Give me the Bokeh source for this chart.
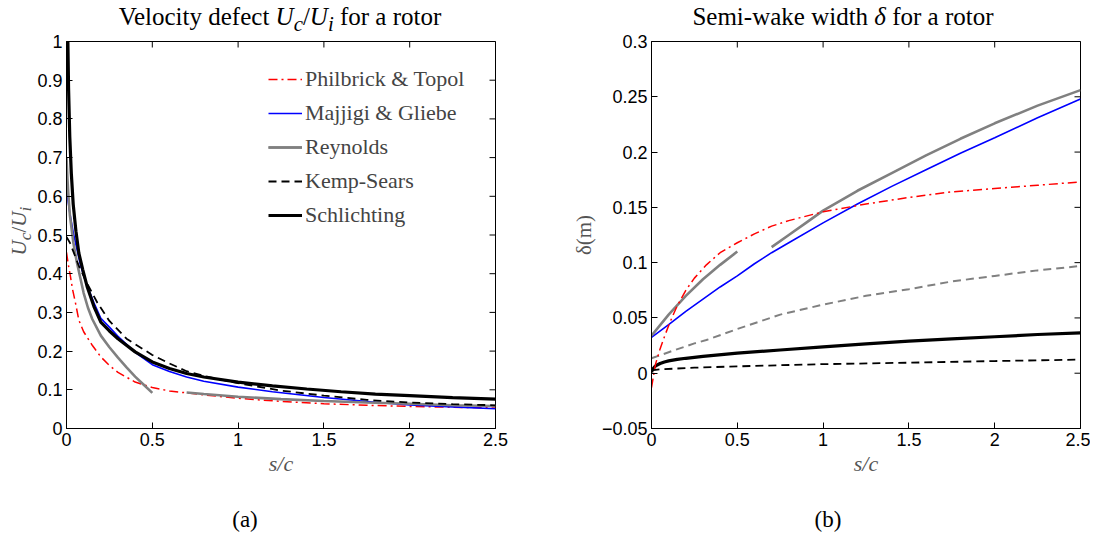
from bokeh.plotting import figure
from bokeh.models import (Range1d, FixedTicker, Legend, LegendItem, CustomJSTickFormatter, Div)
from bokeh.layouts import row, column
from bokeh.embed import file_html
from bokeh.resources import INLINE

# ---------------- data: (a) velocity defect Uc/Ui ----------------
pt_s = [0, 0.01, 0.023, 0.035, 0.052, 0.072, 0.1, 0.15, 0.2, 0.25, 0.3, 0.4, 0.5,
        0.6, 0.8, 1.0, 1.25, 1.5, 1.75, 2.0, 2.25, 2.5]
pt_u = [0.455, 0.425, 0.393, 0.36, 0.325, 0.28, 0.25, 0.215, 0.185, 0.163, 0.145,
        0.12, 0.106, 0.097, 0.087, 0.078, 0.07, 0.064, 0.06, 0.057, 0.055, 0.053]

mg_s = [0, 0.005, 0.01, 0.02, 0.04, 0.06, 0.08, 0.1, 0.12, 0.16, 0.2, 0.25, 0.3,
        0.4, 0.5, 0.6, 0.7, 0.8, 1.0, 1.2, 1.5, 1.8, 2.0, 2.25, 2.5]
mg_u = [0.63, 0.605, 0.585, 0.555, 0.505, 0.465, 0.425, 0.395, 0.37, 0.325, 0.285,
        0.262, 0.238, 0.197, 0.165, 0.147, 0.133, 0.122, 0.107, 0.095, 0.08, 0.068,
        0.061, 0.056, 0.051]

re1_s = [0, 0.005, 0.01, 0.02, 0.04, 0.06, 0.08, 0.1, 0.125, 0.15, 0.2, 0.25, 0.3,
         0.35, 0.4, 0.45, 0.5]
re1_u = [0.70, 0.65, 0.61, 0.55, 0.48, 0.43, 0.39, 0.35, 0.312, 0.283, 0.24, 0.21,
         0.183, 0.158, 0.134, 0.113, 0.092]
re2_s = [0.7, 0.8, 1.0, 1.25, 1.5, 1.75, 2.0, 2.25, 2.5]
re2_u = [0.093, 0.089, 0.082, 0.076, 0.071, 0.067, 0.064, 0.06, 0.058]

ks_s = [0, 0.02, 0.042, 0.072, 0.12, 0.18, 0.25, 0.35, 0.5, 0.6, 0.7, 0.8, 1.0,
        1.25, 1.5, 1.75, 2.0, 2.25, 2.5]
ks_u = [0.495, 0.48, 0.455, 0.42, 0.375, 0.325, 0.278, 0.232, 0.19, 0.168, 0.148,
        0.136, 0.117, 0.098, 0.085, 0.074, 0.067, 0.063, 0.06]

sc_s = [0.006, 0.008, 0.012, 0.019, 0.028, 0.039, 0.055, 0.072, 0.095, 0.12, 0.16,
        0.2, 0.25, 0.3, 0.4, 0.5, 0.6, 0.7, 0.8, 1.0, 1.2, 1.4, 1.6, 1.8, 2.0, 2.25, 2.5]
sc_u = [1.05, 1.0, 0.88, 0.755, 0.66, 0.58, 0.51, 0.453, 0.41, 0.367, 0.315, 0.275,
        0.252, 0.232, 0.198, 0.172, 0.155, 0.142, 0.133, 0.12, 0.11, 0.102, 0.095,
        0.089, 0.085, 0.08, 0.076]

# ---------------- data: (b) semi-wake width delta ----------------
ptd_s = [0, 0.01, 0.023, 0.05, 0.08, 0.11, 0.15, 0.2, 0.25, 0.32, 0.4, 0.5, 0.6,
         0.7, 0.8, 1.0, 1.25, 1.5, 1.75, 2.0, 2.25, 2.5]
ptd_d = [-0.013, -0.004, 0.008, 0.022, 0.035, 0.047, 0.061, 0.075, 0.086, 0.098,
         0.109, 0.118, 0.126, 0.133, 0.138, 0.146, 0.153, 0.159, 0.164, 0.167, 0.170, 0.173]

mgd_s = [0, 0.1, 0.2, 0.3, 0.4, 0.5, 0.6, 0.7, 0.8, 1.0, 1.2, 1.4, 1.6, 1.8, 2.0, 2.25, 2.5]
mgd_d = [0.0325, 0.044, 0.056, 0.067, 0.078, 0.088, 0.099, 0.109, 0.118, 0.136,
         0.153, 0.169, 0.184, 0.199, 0.213, 0.231, 0.248]

re1d_s = [0, 0.1, 0.2, 0.3, 0.4, 0.5]
re1d_d = [0.034, 0.053, 0.07, 0.085, 0.098, 0.11]
re2d_s = [0.7, 0.8, 0.9, 1.0, 1.2, 1.4, 1.6, 1.8, 2.0, 2.25, 2.5]
re2d_d = [0.114, 0.125, 0.136, 0.147, 0.165, 0.181, 0.197, 0.212, 0.226, 0.242, 0.256]

gd_s = [0, 0.1, 0.25, 0.32, 0.5, 0.75, 1.0, 1.25, 1.5, 1.75, 2.0, 2.25, 2.5]
gd_d = [0.0135, 0.019, 0.027, 0.030, 0.040, 0.053, 0.062, 0.07, 0.076, 0.083, 0.088,
        0.093, 0.097]

scd_s = [0, 0.005, 0.01, 0.02, 0.03, 0.05, 0.075, 0.1, 0.15, 0.2, 0.3, 0.5, 0.75,
         1.0, 1.25, 1.5, 1.75, 2.0, 2.25, 2.5]
scd_d = [0.001, 0.003, 0.0042, 0.006, 0.0072, 0.0088, 0.0102, 0.0112, 0.0125, 0.0135,
         0.0153, 0.0182, 0.021, 0.0238, 0.0265, 0.029, 0.031, 0.033, 0.035, 0.0365]

ksd_s = [0, 0.05, 0.25, 0.5, 0.75, 1.0, 1.5, 2.0, 2.5]
ksd_d = [0.0025, 0.0035, 0.005, 0.0062, 0.0072, 0.0082, 0.0095, 0.011, 0.0123]

# ---------------- ticks ----------------
x_ticks = [0, 0.5, 1, 1.5, 2, 2.5]
x_tick_labels = ["0", "0.5", "1", "1.5", "2", "2.5"]
ya_ticks = [0, 0.1, 0.2, 0.3, 0.4, 0.5, 0.6, 0.7, 0.8, 0.9, 1]
ya_tick_labels = ["0", "0.1", "0.2", "0.3", "0.4", "0.5", "0.6", "0.7", "0.8", "0.9", "1"]
yb_ticks = [-0.05, 0, 0.05, 0.1, 0.15, 0.2, 0.25, 0.3]
yb_tick_labels = ["\u22120.05", "0", "0.05", "0.1", "0.15", "0.2", "0.25", "0.3"]

legend_labels = ["Philbrick & Topol", "Majjigi & Gliebe", "Reynolds", "Kemp-Sears", "Schlichting"]

SERIF = "Liberation Serif"
SANS = "Liberation Sans"
RED, BLUE, GRAY, BLACK = "#ff0000", "#0000ff", "#808080", "#000000"
LABEL_GRAY = "#555555"


def fmt(tv, tl):
    return CustomJSTickFormatter(args=dict(tv=tv, tl=tl), code="""
        for (let k = 0; k < tv.length; k++) {
            if (Math.abs(tv[k] - tick) < 1e-9) return tl[k];
        }
        return "";
    """)


def style(p, yt, ylab, x_end, y_end):
    p.xaxis.ticker = FixedTicker(ticks=x_ticks)
    p.xaxis.formatter = fmt(x_ticks, x_tick_labels)
    p.yaxis.ticker = FixedTicker(ticks=yt)
    p.yaxis.formatter = fmt(yt, ylab)
    for ax in p.axis:
        ax.major_tick_in = 6
        ax.major_tick_out = 0
        ax.minor_tick_in = 0
        ax.minor_tick_out = 0
        ax.axis_line_color = "black"
        ax.axis_line_width = 1
        ax.major_tick_line_color = "black"
        ax.major_label_text_font = SANS
        ax.major_label_text_font_size = "18px"
        ax.major_label_text_color = "black"
        ax.major_label_standoff = 4
    p.xaxis.axis_label = "s/c"
    p.xaxis.axis_label_text_font = SERIF
    p.xaxis.axis_label_text_font_style = "italic"
    p.xaxis.axis_label_text_font_size = "22px"
    p.xaxis.axis_label_text_color = LABEL_GRAY
    p.xaxis.axis_label_standoff = 2
    # inward ticks on the top and right edges of the box (half of each dash is clipped)
    p.scatter(x_ticks, [y_end] * len(x_ticks), marker="dash", size=12, angle=1.5708,
              line_color="black", line_width=1)
    p.scatter([x_end] * len(yt), yt, marker="dash", size=12, line_color="black", line_width=1)
    p.xgrid.visible = False
    p.ygrid.visible = False
    p.outline_line_color = "black"
    p.background_fill_color = "white"
    p.border_fill_color = "white"


def html_div(html, width, height):
    return Div(text=html, width=width, height=height, margin=0)


# ================= (a) =================
p1 = figure(width=534, height=455, x_range=Range1d(0, 2.5), y_range=Range1d(0, 1),
            output_backend="svg", toolbar_location=None, margin=0,
            min_border_left=30, min_border_right=73, min_border_top=8, min_border_bottom=60)
style(p1, ya_ticks, ya_tick_labels, 2.5, 1)

r_pt = p1.line(pt_s, pt_u, line_color=RED, line_width=1.5, line_dash="9 4 2 4")
r_mg = p1.line(mg_s, mg_u, line_color=BLUE, line_width=1.6)
r_re1 = p1.line(re1_s, re1_u, line_color=GRAY, line_width=2.6)
r_re2 = p1.line(re2_s, re2_u, line_color=GRAY, line_width=2.6)
r_ks = p1.line(ks_s, ks_u, line_color=BLACK, line_width=1.8, line_dash="8 5")
r_sc = p1.line(sc_s, sc_u, line_color=BLACK, line_width=3.2)

legend = Legend(items=[LegendItem(label=legend_labels[0], renderers=[r_pt]),
                       LegendItem(label=legend_labels[1], renderers=[r_mg]),
                       LegendItem(label=legend_labels[2], renderers=[r_re1, r_re2]),
                       LegendItem(label=legend_labels[3], renderers=[r_ks]),
                       LegendItem(label=legend_labels[4], renderers=[r_sc])],
                location=(202, 200), border_line_color=None, background_fill_alpha=0,
                label_text_font=SERIF, label_text_font_size="22px",
                glyph_width=34, glyph_height=24, label_height=24, spacing=8,
                padding=0, margin=0, label_standoff=3)
p1.add_layout(legend)

# ================= (b) =================
p2 = figure(width=522, height=455, x_range=Range1d(0, 2.5), y_range=Range1d(-0.05, 0.3),
            output_backend="svg", toolbar_location=None, margin=0,
            min_border_left=83, min_border_right=10, min_border_top=8, min_border_bottom=60)
style(p2, yb_ticks, yb_tick_labels, 2.5, 0.3)
p2.yaxis.axis_label = "\u03b4(m)"
p2.yaxis.axis_label_text_font = SERIF
p2.yaxis.axis_label_text_font_style = "normal"
p2.yaxis.axis_label_text_font_size = "21px"
p2.yaxis.axis_label_text_color = LABEL_GRAY
p2.yaxis.axis_label_standoff = 3

p2.line(gd_s, gd_d, line_color=GRAY, line_width=2.0, line_dash="8 5")
p2.line(ksd_s, ksd_d, line_color=BLACK, line_width=1.8, line_dash="8 5")
p2.line(scd_s, scd_d, line_color=BLACK, line_width=3.2)
p2.line(mgd_s, mgd_d, line_color=BLUE, line_width=1.6)
p2.line(re1d_s, re1d_d, line_color=GRAY, line_width=2.6)
p2.line(re2d_s, re2d_d, line_color=GRAY, line_width=2.6)
p2.line(ptd_s, ptd_d, line_color=RED, line_width=1.5, line_dash="9 4 2 4")

# ================= texts outside the plot frames =================
F = "font-family:'Liberation Serif',serif;"
title_a = html_div(
    f'<div style="{F} font-size:25px; line-height:30px; width:568px; text-align:center; '
    'position:relative; left:-4px; top:2px; white-space:nowrap; color:#000;">'
    'Velocity defect <i>U<sub>c</sub></i>/<i>U<sub>i</sub></i> for a rotor</div>', 568, 33)
title_b = html_div(
    f'<div style="{F} font-size:25px; line-height:30px; width:522px; text-align:center; '
    'position:relative; left:14px; top:2px; white-space:nowrap; color:#000;">'
    'Semi-wake width <i>\u03b4</i> for a rotor</div>', 522, 33)

ylab_a = html_div(
    f'<div style="{F} font-size:21px; line-height:24px; width:200px; height:24px; '
    'text-align:center; white-space:nowrap; color:#555555; transform-origin:left top; '
    'transform:translate(7px, 298px) rotate(-90deg);">'
    '<i>U<sub>c</sub></i>/<i>U<sub>i</sub></i></div>', 34, 455)

cap_a = html_div(
    f'<div style="{F} font-size:23px; line-height:26px; width:568px; text-align:center; '
    'position:relative; left:-39px; top:19px; color:#000;">(a)</div>', 568, 48)
cap_b = html_div(
    f'<div style="{F} font-size:23px; line-height:26px; width:522px; text-align:center; '
    'position:relative; left:-1px; top:19px; color:#000;">(b)</div>', 522, 48)

layout = column(row(title_a, title_b, spacing=0),
                row(ylab_a, p1, p2, spacing=0),
                row(cap_a, cap_b, spacing=0),
                spacing=0)
open("out.html", "w").write(file_html(layout, INLINE))
